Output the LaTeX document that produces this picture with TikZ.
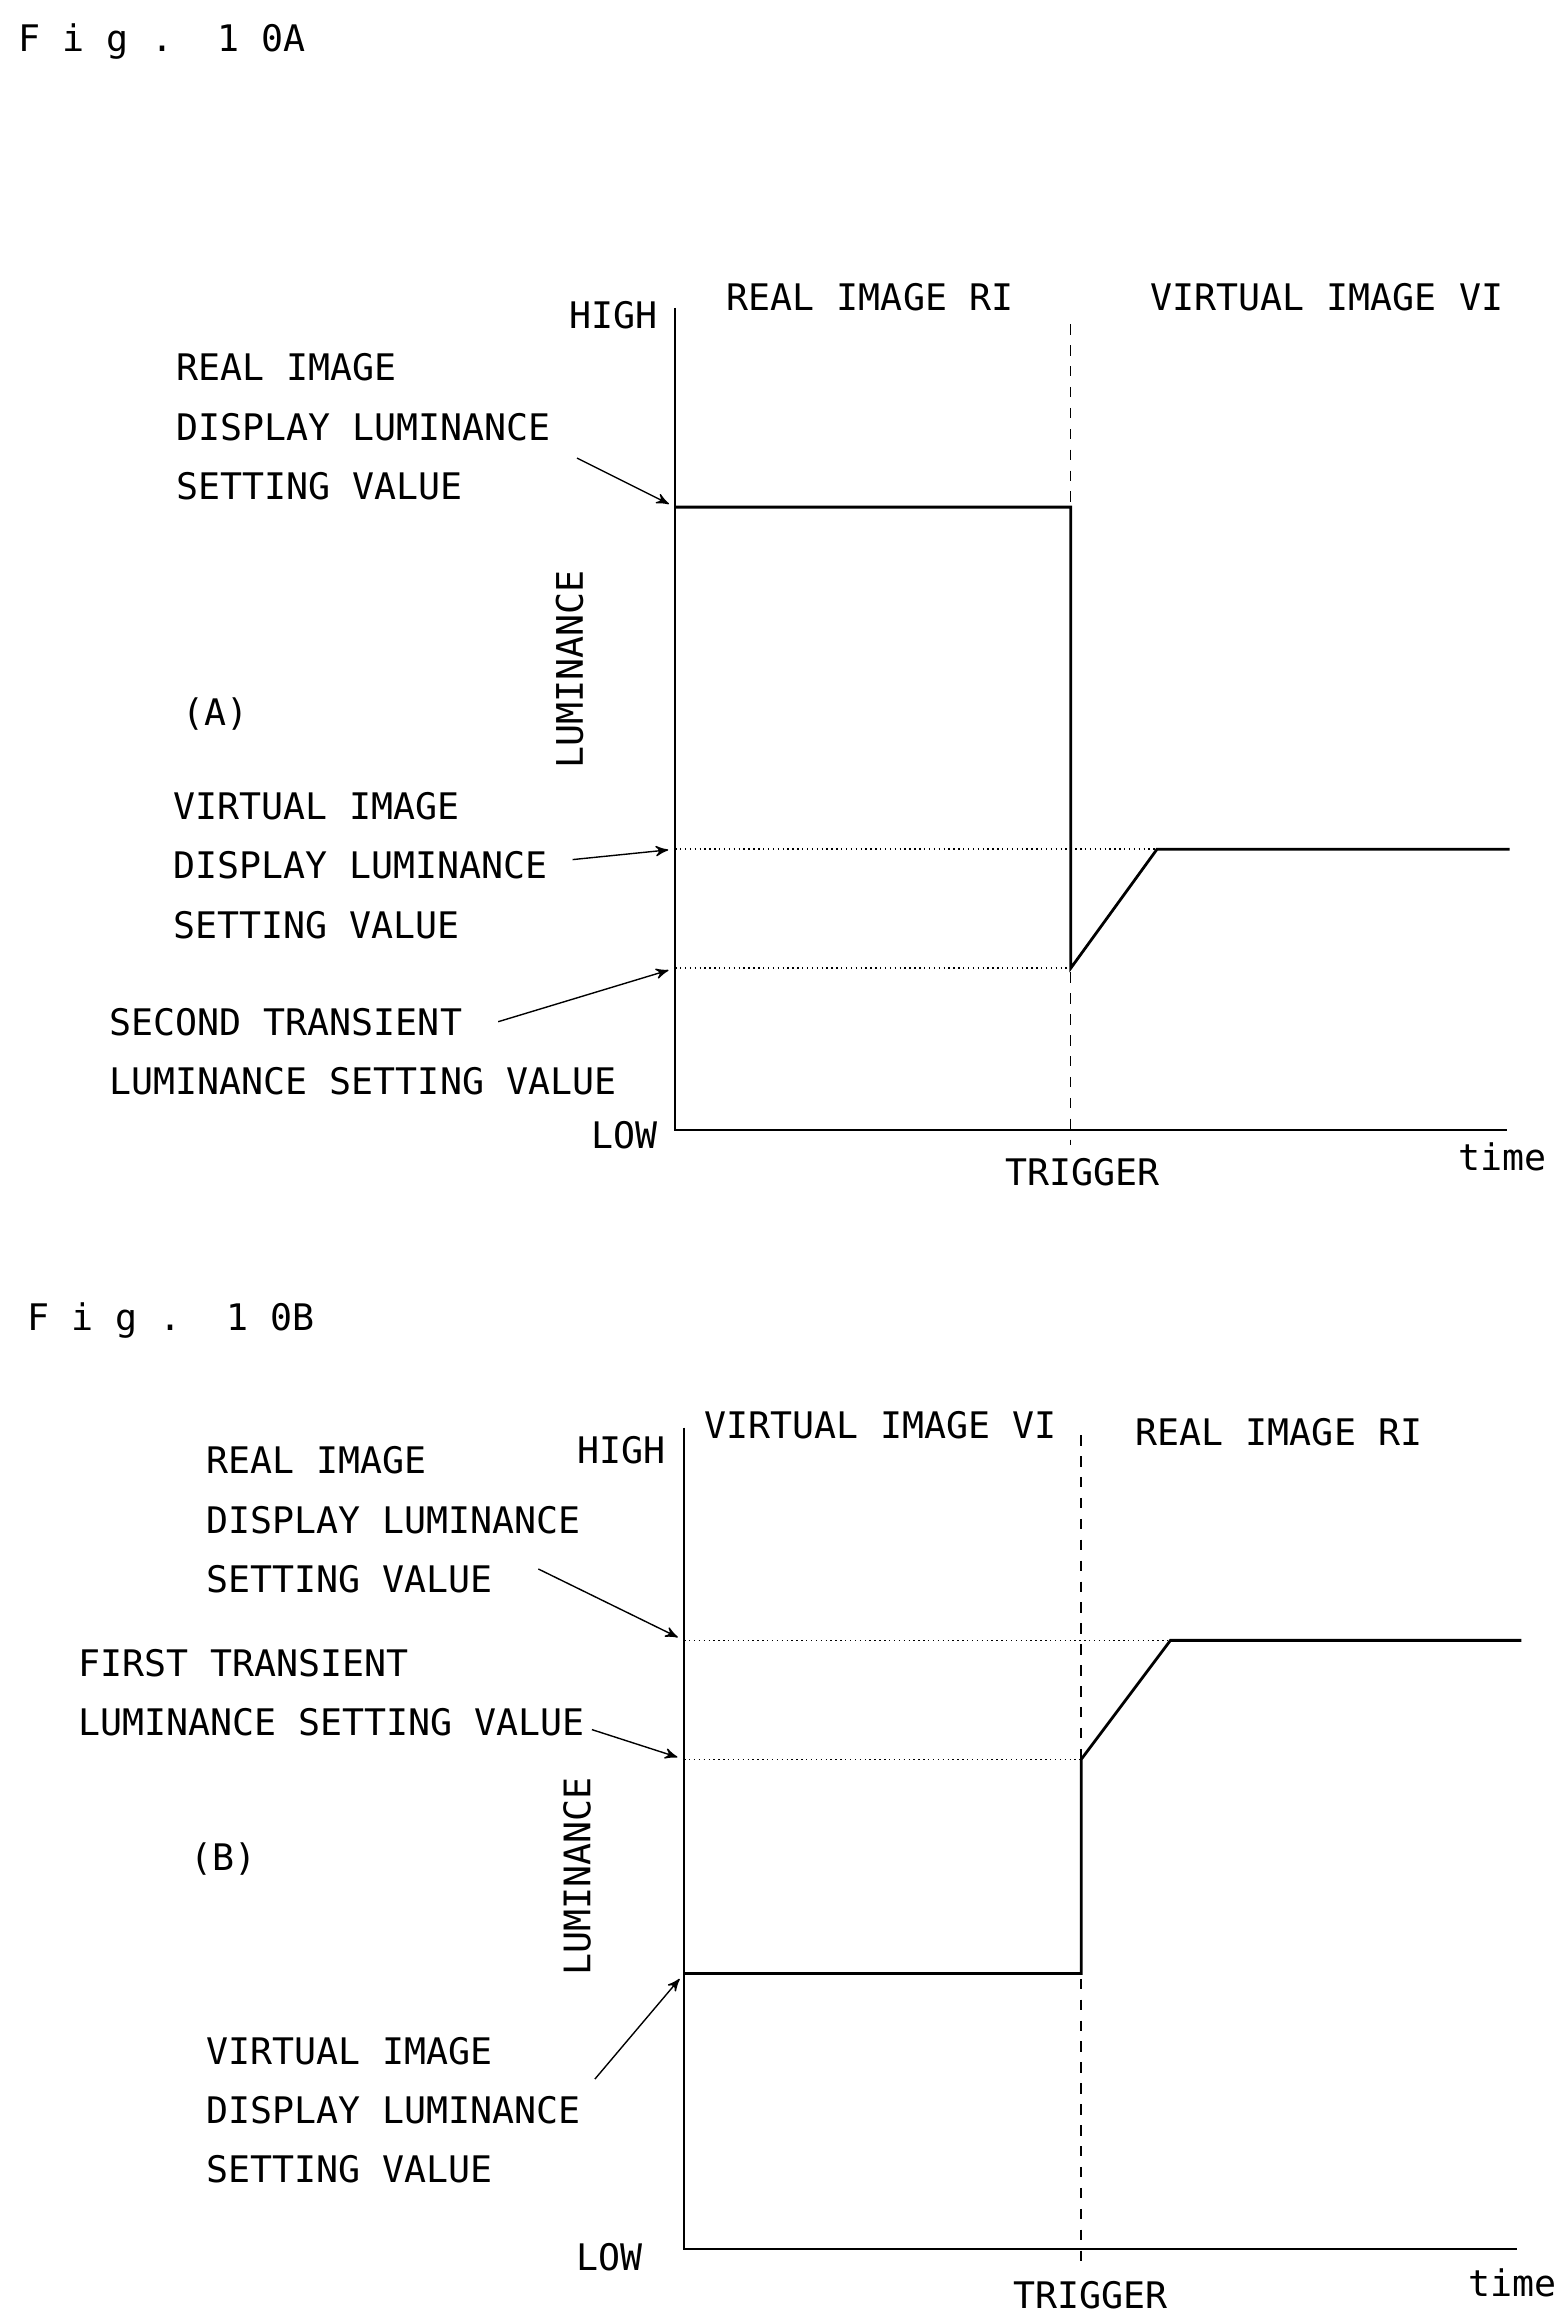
\documentclass[tikz,border=0pt]{standalone}
\usepackage{fontspec}
\setmainfont{DejaVu Sans Mono}
\usetikzlibrary{arrows}

\begin{document}
\begin{tikzpicture}[x=0.15mm,y=-0.15mm,>=stealth',semithick,
  every node/.style={font=\fontsize{10.5}{17}\selectfont,inner sep=0pt},
  lbl/.style={anchor=west,align=left},
  curve/.style={thick},
  level/.style={densely dotted,thin},
  trig/.style={dashed,thin},
  ptr/.style={->,thin,shorten >=2pt}]
  \useasboundingbox (0,0) rectangle (1050,1560);

  % Fig. 10A
  \node[lbl] (titleA) at (12,28) {F i g .\ \ 1 0A};
  \coordinate (oA) at (454,760);
  \coordinate (topA) at (454,207);
  \coordinate (endA) at (1013,760);
  \draw (topA) -- (oA) -- (endA);
  \node[anchor=east] (highA) at (443,212) {HIGH};
  \node[anchor=east] (lowA) at (443,763) {LOW};
  \node (trigA) at (728,788) {TRIGGER};
  \node (timeA) at (1010,778) {time};
  \node[lbl] (riA) at (488,200) {REAL IMAGE RI};
  \node[lbl] (viA) at (773,200) {VIRTUAL IMAGE VI};
  \node[rotate=90] (lumA) at (383,450) {LUMINANCE};
  \node (capA) at (145,480) {(A)};
  \coordinate (tA1) at (720,218);
  \coordinate (tA2) at (720,770);
  \draw[trig] (tA1) -- (tA2);
  \coordinate (rA) at (454,341);
  \coordinate (vA) at (454,571);
  \coordinate (sA) at (454,651);
  \draw[curve] (rA) -- (720,341) -- (720,651) -- (778,571) -- (1015,571);
  \draw[level] (vA) -- (778,571);
  \draw[level] (sA) -- (720,651);
  \node[lbl] (realA) at (118,287) {REAL IMAGE\\DISPLAY LUMINANCE\\SETTING VALUE};
  \node[lbl] (virtA) at (116,582) {VIRTUAL IMAGE\\DISPLAY LUMINANCE\\SETTING VALUE};
  \node[lbl] (secA) at (73,707) {SECOND TRANSIENT\\LUMINANCE SETTING VALUE};
  \coordinate (pA1) at (388,308);
  \coordinate (pA2) at (385,578);
  \coordinate (pA3) at (335,687);
  \draw[ptr] (pA1) -- (rA);
  \draw[ptr] (pA2) -- (vA);
  \draw[ptr] (pA3) -- (sA);

  % Fig. 10B
  \node[lbl] (titleB) at (18,888) {F i g .\ \ 1 0B};
  \coordinate (oB) at (460,1512);
  \coordinate (topB) at (460,960);
  \coordinate (endB) at (1020,1512);
  \draw (topB) -- (oB) -- (endB);
  \node[anchor=east] (highB) at (448,975) {HIGH};
  \node (lowB) at (410,1518) {LOW};
  \node (trigB) at (733,1543) {TRIGGER};
  \node (timeB) at (1017,1535) {time};
  \node[lbl] (viB) at (473,958) {VIRTUAL IMAGE VI};
  \node[lbl] (riB) at (763,963) {REAL IMAGE RI};
  \node[rotate=90] (lumB) at (388,1262) {LUMINANCE};
  \node (capB) at (150,1250) {(B)};
  \coordinate (tB1) at (727,965);
  \coordinate (tB2) at (727,1522);
  \draw[trig] (tB1) -- (tB2);
  \coordinate (rB) at (460,1103);
  \coordinate (fB) at (460,1183);
  \coordinate (vB) at (460,1327);
  \draw[curve] (vB) -- (727,1327) -- (727,1183) -- (787,1103) -- (1023,1103);
  \draw[level] (rB) -- (787,1103);
  \draw[level] (fB) -- (727,1183);
  \node[lbl] (realB) at (138,1022) {REAL IMAGE\\DISPLAY LUMINANCE\\SETTING VALUE};
  \node[lbl] (firstB) at (52,1138) {FIRST TRANSIENT\\LUMINANCE SETTING VALUE};
  \node[lbl] (virtB) at (138,1419) {VIRTUAL IMAGE\\DISPLAY LUMINANCE\\SETTING VALUE};
  \coordinate (pB1) at (362,1055);
  \coordinate (pB2) at (398,1163);
  \coordinate (pB3) at (400,1398);
  \draw[ptr] (pB1) -- (rB);
  \draw[ptr] (pB2) -- (fB);
  \draw[ptr] (pB3) -- (vB);
\end{tikzpicture}
\end{document}
